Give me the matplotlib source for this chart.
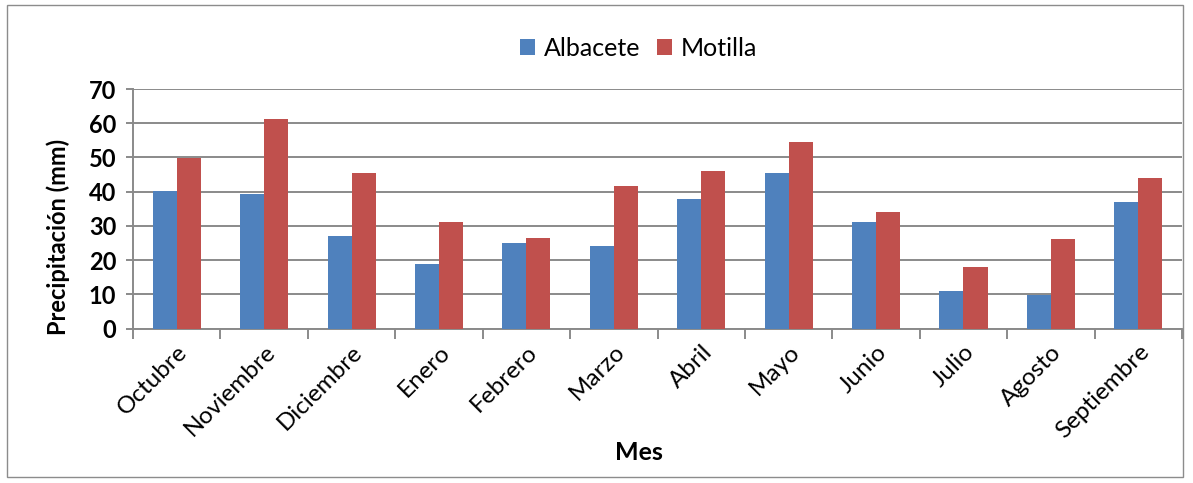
import matplotlib
matplotlib.use("Agg")
import matplotlib.pyplot as plt
import numpy as np
from matplotlib.patches import Rectangle

meses = ["Octubre", "Noviembre", "Diciembre", "Enero", "Febrero", "Marzo",
         "Abril", "Mayo", "Junio", "Julio", "Agosto", "Septiembre"]
albacete = [40.2, 39.3, 27.2, 19.0, 25.1, 24.2, 38.0, 45.5, 31.3, 11.0, 9.8, 37.0]
motilla = [49.9, 61.2, 45.5, 31.3, 26.6, 41.7, 46.0, 54.5, 34.2, 18.0, 26.1, 44.1]
y_ticks = [0, 10, 20, 30, 40, 50, 60, 70]

plt.rcParams['font.family'] = ['Lato', 'DejaVu Sans']

fig = plt.figure(figsize=(11.93, 4.83), dpi=100)
ax = fig.add_axes([0.1115, 0.3195, 0.8793, 0.4962])

# chart frame
fig.patches.append(Rectangle((0.006, 0.012), 0.986, 0.978, transform=fig.transFigure,
                             fill=False, edgecolor="#8c8c8c", linewidth=1.0))

x = np.arange(len(meses))
w = 0.275
ax.bar(x - w / 2, albacete, w, color="#4F81BD", label="Albacete", zorder=3)
ax.bar(x + w / 2, motilla, w, color="#C0504D", label="Motilla", zorder=3)

ax.set_xlim(-0.5, len(meses) - 0.5)
ax.set_ylim(0, 70)
ax.set_yticks(y_ticks)
ax.yaxis.grid(True, color="#8a8a8a", linewidth=1.4, zorder=0)
ax.set_axisbelow(True)

for s in ["top", "right"]:
    ax.spines[s].set_visible(False)
for s in ["left", "bottom"]:
    ax.spines[s].set_color("#8a8a8a")
    ax.spines[s].set_linewidth(1.4)

ax.set_xticks(np.arange(-0.5, len(meses), 1.0), minor=False)
ax.set_xticklabels([])
ax.set_xticks(x, minor=True)
ax.set_xticklabels(meses, minor=True, rotation=45, ha="right", rotation_mode="anchor",
                   fontsize=17.5)
ax.tick_params(axis="x", which="major", length=7, width=1.4, color="#8a8a8a", direction="out")
ax.tick_params(axis="x", which="minor", length=0, pad=9)
ax.tick_params(axis="y", length=5, width=1.4, color="#8a8a8a", labelsize=17, pad=7)
for lbl in ax.get_yticklabels():
    lbl.set_fontweight("bold")

ax.set_ylabel("Precipitación (mm)", fontsize=17, fontweight="bold")
ax.yaxis.set_label_coords(-0.06, 0.383)
ax.set_xlabel("Mes", fontsize=18, fontweight="bold")
ax.xaxis.set_label_coords(0.482, -0.468)

ax.legend(loc="center", bbox_to_anchor=(0.482, 1.17), ncol=2, frameon=False,
          fontsize=18, handlelength=0.6, handleheight=0.6, handletextpad=0.35,
          columnspacing=0.7)

fig.savefig("out.png", dpi=100)
